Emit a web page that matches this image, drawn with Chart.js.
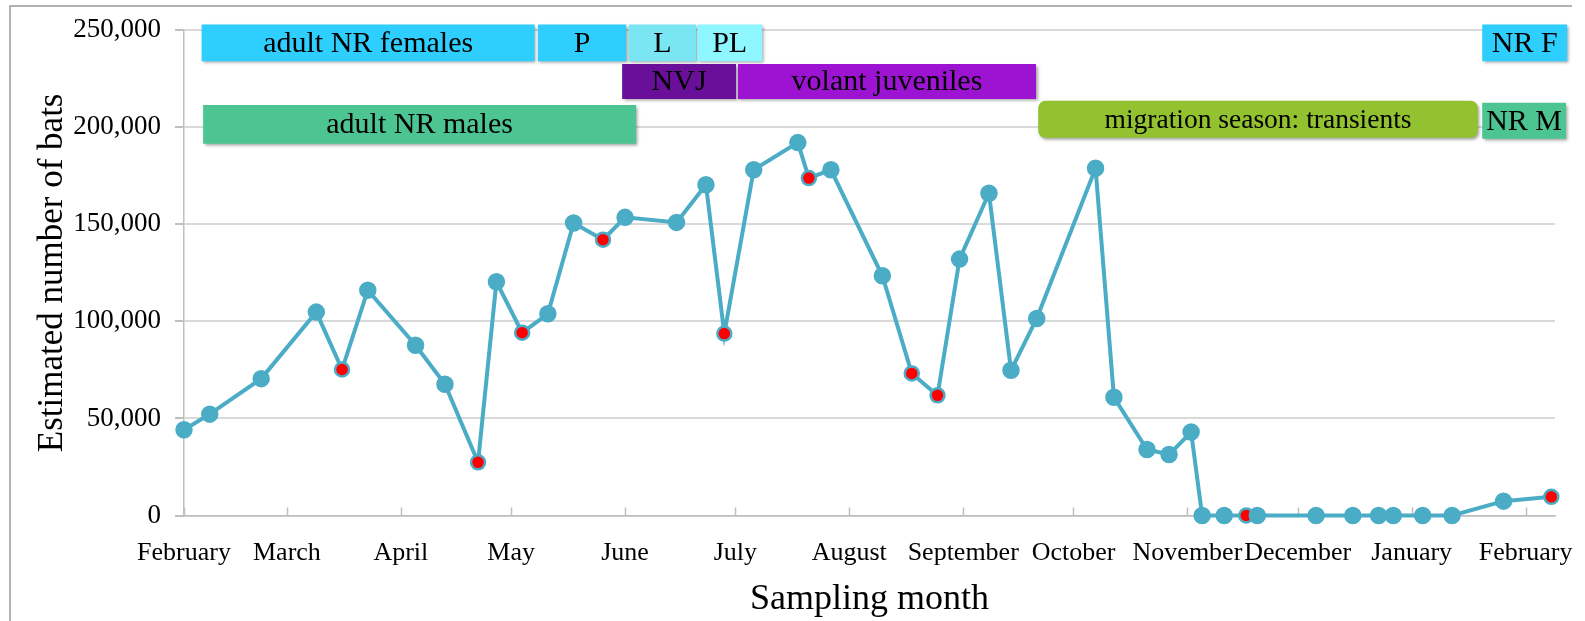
<!DOCTYPE html>
<html>
<head>
<meta charset="utf-8">
<title>Estimated number of bats by sampling month</title>
<script src="https://cdn.jsdelivr.net/npm/chart.js@4.4.1/dist/chart.umd.min.js"></script>
<style>
  html, body { margin: 0; padding: 0; background: #fff; overflow: hidden; }
  canvas { display: block; }
</style>
</head>
<body>
<canvas id="batChart" width="1585" height="621"></canvas>
<script>
// x values are days counted from 1 February
const monthLabels = ['February', 'March', 'April', 'May', 'June', 'July', 'August',
    'September', 'October', 'November', 'December', 'January', 'February'];
const monthStartDay = [0, 28, 59, 89, 120, 150, 181, 212, 242, 273, 303, 334, 365];

const sampleDay = [0, 7, 21, 36, 43, 50, 63, 71, 80, 85, 92, 99, 106, 114, 120, 134, 142, 147,
    155, 167, 170, 176, 190, 198, 205, 211, 219, 225, 232, 248, 253, 262, 268, 274, 277, 283,
    289, 292, 308, 318, 325, 329, 337, 345, 359, 372];
const batCount = [44200, 52200, 70500, 104800, 75200, 116100, 87700, 67600, 27400, 120400,
    94200, 103900, 150700, 142100, 153600, 151000, 170400, 93700, 178100, 192100, 173800,
    178100, 123500, 73200, 61900, 132100, 166000, 74800, 101500, 178900, 60900, 34000, 31400,
    43000, 0, 0, 0, 0, 0, 0, 0, 0, 0, 0, 7400, 9600];
// samples drawn with a red centre
const redSample = [4, 8, 10, 13, 17, 20, 23, 24, 36, 45];

const yTicks = [0, 50000, 100000, 150000, 200000, 250000];

// life-history stages shown as bands over the plot (day range, bat-count band)
const stageLabels = ['adult NR females', 'P', 'L', 'PL', 'NVJ', 'volant juveniles',
    'adult NR males', 'migration season: transients', 'NR F', 'NR M'];
const stageStart = [4.8, 96.3, 121, 139.6, 119.2, 150.7, 5.2, 232.4, 353.2, 353.2];
const stageEnd = [95.4, 120.3, 139.3, 157.3, 150.2, 231.8, 123, 352, 376.3, 376];
const stageLow = [234000, 234000, 234000, 234000, 214600, 214600, 191500, 194600, 234000, 194100];
const stageHigh = [253000, 253000, 253000, 253000, 232600, 232600, 211500, 213600, 253000, 212600];

const stageColors = ['#2ECEFF', '#2ECEFF', '#7AE6F3', '#8EF6FF', '#6A0F9A', '#9C14D2',
    '#4DC592', '#92C22F', '#2ECEFF', '#4DC592'];
const stageCorner = [0, 0, 0, 0, 0, 0, 0, 7, 0, 0];
const stageFontSize = [30, 30, 30, 30, 30, 30, 30, 27.5, 30, 30];

const SERIF = '"Liberation Serif", "Times New Roman", serif';
const LINE_BLUE = '#4BACC6';
const AXIS_GREY = '#BFBFBF';

const frame = {
    id: 'frame',
    beforeDraw(chart) {
        const ctx = chart.ctx;
        ctx.save();
        ctx.fillStyle = '#fff';
        ctx.fillRect(0, 0, chart.width, chart.height);
        ctx.strokeStyle = '#9A9A9A';
        ctx.lineWidth = 1.5;
        ctx.beginPath();
        ctx.moveTo(10, chart.height);
        ctx.lineTo(10, 6);
        ctx.lineTo(1572, 6);
        ctx.stroke();
        ctx.restore();
    },
    beforeDatasetsDraw(chart) {
        // month tick marks point up into the plot
        const { ctx, scales: { x }, chartArea } = chart;
        ctx.save();
        ctx.strokeStyle = AXIS_GREY;
        ctx.lineWidth = 1.5;
        monthStartDay.forEach(d => {
            const px = Math.round(x.getPixelForValue(d)) + 0.5;
            ctx.beginPath();
            ctx.moveTo(px, chartArea.bottom);
            ctx.lineTo(px, chartArea.bottom - 8);
            ctx.stroke();
        });
        ctx.restore();
    }
};

const stageBoxes = {
    id: 'stageBoxes',
    afterDatasetsDraw(chart) {
        const { ctx, scales: { x, y } } = chart;
        ctx.save();
        stageLabels.forEach((label, i) => {
            const left = x.getPixelForValue(stageStart[i]);
            const right = x.getPixelForValue(stageEnd[i]);
            const top = y.getPixelForValue(stageHigh[i]);
            const bottom = y.getPixelForValue(stageLow[i]);

            ctx.shadowColor = 'rgba(0, 0, 0, 0.35)';
            ctx.shadowOffsetX = 1.5;
            ctx.shadowOffsetY = 2;
            ctx.shadowBlur = 3;
            ctx.fillStyle = stageColors[i];
            ctx.beginPath();
            ctx.roundRect(left, top, right - left, bottom - top, stageCorner[i]);
            ctx.fill();

            ctx.shadowColor = 'transparent';
            ctx.fillStyle = '#000';
            ctx.font = stageFontSize[i] + 'px ' + SERIF;
            ctx.textAlign = 'center';
            ctx.textBaseline = 'middle';
            ctx.fillText(label, (left + right) / 2, (top + bottom) / 2 + 1);
        });
        ctx.restore();
    }
};

const points = sampleDay.map((d, i) => ({ x: d, y: batCount[i] }));
const pointFill = batCount.map((v, i) => redSample.includes(i) ? '#FF0000' : LINE_BLUE);
const pointRadius = batCount.map((v, i) => redSample.includes(i) ? 7 : 7.5);

const ctx = document.getElementById('batChart').getContext('2d');
new Chart(ctx, {
    type: 'line',
    data: {
        datasets: [{
            label: 'Estimated number of bats',
            data: points,
            borderColor: LINE_BLUE,
            borderWidth: 4,
            pointBackgroundColor: pointFill,
            pointBorderColor: LINE_BLUE,
            pointBorderWidth: 2.5,
            pointRadius: pointRadius,
            tension: 0,
            clip: false
        }]
    },
    options: {
        responsive: false,
        animation: false,
        layout: { padding: { left: 0, top: 28, right: 30, bottom: 0 } },
        plugins: {
            legend: { display: false },
            tooltip: { enabled: false }
        },
        scales: {
            x: {
                type: 'linear',
                min: 0,
                max: 373,
                afterFit: s => {
                    s.height = 105.5;
                    // let the end labels hang over the edges like the original
                    s.paddingLeft = 0;
                    s.paddingRight = 0;
                },
                afterBuildTicks: s => { s.ticks = monthStartDay.map(v => ({ value: v })); },
                grid: { drawOnChartArea: false, drawTicks: false },
                border: { color: AXIS_GREY, width: 1.5 },
                ticks: {
                    autoSkip: false,
                    maxRotation: 0,
                    padding: 22,
                    color: '#000',
                    font: { family: SERIF, size: 26 },
                    callback: (v, i) => monthLabels[i]
                },
                title: {
                    display: true,
                    text: 'Sampling month',
                    color: '#000',
                    font: { family: SERIF, size: 36 },
                    padding: { top: 25, bottom: 0 }
                }
            },
            y: {
                min: 0,
                max: 250000,
                afterFit: s => { s.width = 184; },
                afterBuildTicks: s => { s.ticks = yTicks.map(v => ({ value: v })); },
                grid: { color: '#D9D9D9', lineWidth: 2, tickColor: AXIS_GREY, tickLength: 9 },
                border: { color: AXIS_GREY, width: 1.5 },
                ticks: {
                    padding: 14,
                    color: '#000',
                    font: { family: SERIF, size: 27 },
                    callback: v => v.toLocaleString('en-US')
                },
                title: {
                    display: true,
                    text: 'Estimated number of bats',
                    color: '#000',
                    font: { family: SERIF, size: 35 },
                    padding: { top: 32, bottom: 0 }
                }
            }
        }
    },
    plugins: [frame, stageBoxes]
});
</script>
</body>
</html>
